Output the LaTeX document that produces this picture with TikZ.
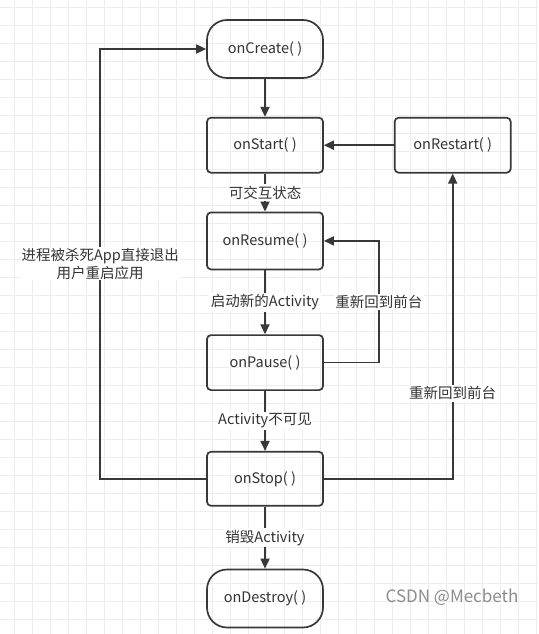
\documentclass[tikz,border=0pt]{standalone}
\usepackage{fontspec}
\setmainfont{Noto Sans CJK SC}
\usetikzlibrary{positioning, arrows.meta}

\definecolor{inkgray}{HTML}{383838}
\definecolor{textgray}{HTML}{333333}
\definecolor{gridgray}{HTML}{EDEDED}

\begin{document}
\begin{tikzpicture}[
    x=1pt, y=-1pt,
    font=\fontsize{14.5}{17.5}\selectfont,
    >={Triangle[length=10pt, width=9pt]},
    state/.style={rectangle, rounded corners=4pt, draw=inkgray, line width=1.7pt, text=textgray, minimum width=116pt, minimum height=55pt, align=center, font=\fontsize{14.5}{17}\selectfont},
    terminal/.style={state, rounded corners=20pt, minimum height=58pt},
    lbl/.style={fill=white, text=textgray, inner sep=1.5pt, align=center},
    arrow/.style={->, draw=inkgray, line width=1.7pt},
    gridline/.style={draw=gridgray, line width=0.8pt}
]

% Background grid
\useasboundingbox (0,0) rectangle (538,634);
\fill[white] (0,0) rectangle (538,634);
\foreach \gx in {14,32,...,536} \draw[gridline] (\gx,0) -- (\gx,634);
\foreach \gy in {7,25,...,633} \draw[gridline] (0,\gy) -- (538,\gy);

% Lifecycle states
\node[terminal] (create) at (265,49) {onCreate( )};
\node[state, below=38pt of create] (start) {onStart( )};
\node[state, right=70pt of start] (restart) {onRestart( )};
\node[state, below=38pt of start, minimum height=57pt] (resume) {onResume( )};
\node[state, below=64pt of resume] (pause) {onPause( )};
\node[state, below=60pt of pause, minimum height=54pt] (stop) {onStop( )};
\node[terminal, below=62pt of stop] (destroy) {onDestroy( )};

% Main flow
\draw[arrow] (create) -- (start);
\draw[arrow] (start) -- node[lbl] {可交互状态} (resume);
\draw[arrow] (resume) -- node[lbl] {启动新的Activity} (pause);
\draw[arrow] (pause) -- node[lbl] {Activity不可见} (stop);
\draw[arrow] (stop) -- node[lbl] {销毁Activity} (destroy);
\draw[arrow] (restart) -- (start);

% Return loops
\draw[arrow] (pause.east) -- ++(55,0) |- node[lbl, pos=0.25] {重新回到前台} (resume.east);
\draw[arrow] (stop.east) -| node[lbl, pos=0.64] {重新回到前台} (restart.south);
\draw[arrow] (stop.west) -- ++(-106,0) |- node[lbl, pos=0.25, inner sep=1pt] {进程被杀死App直接退出\\用户重启应用} (create.west);

% Watermark
\node[text=black!45, font=\fontsize{17}{19}\selectfont] (mark) at (452,597) {CSDN @Mecbeth};

\end{tikzpicture}
\end{document}
